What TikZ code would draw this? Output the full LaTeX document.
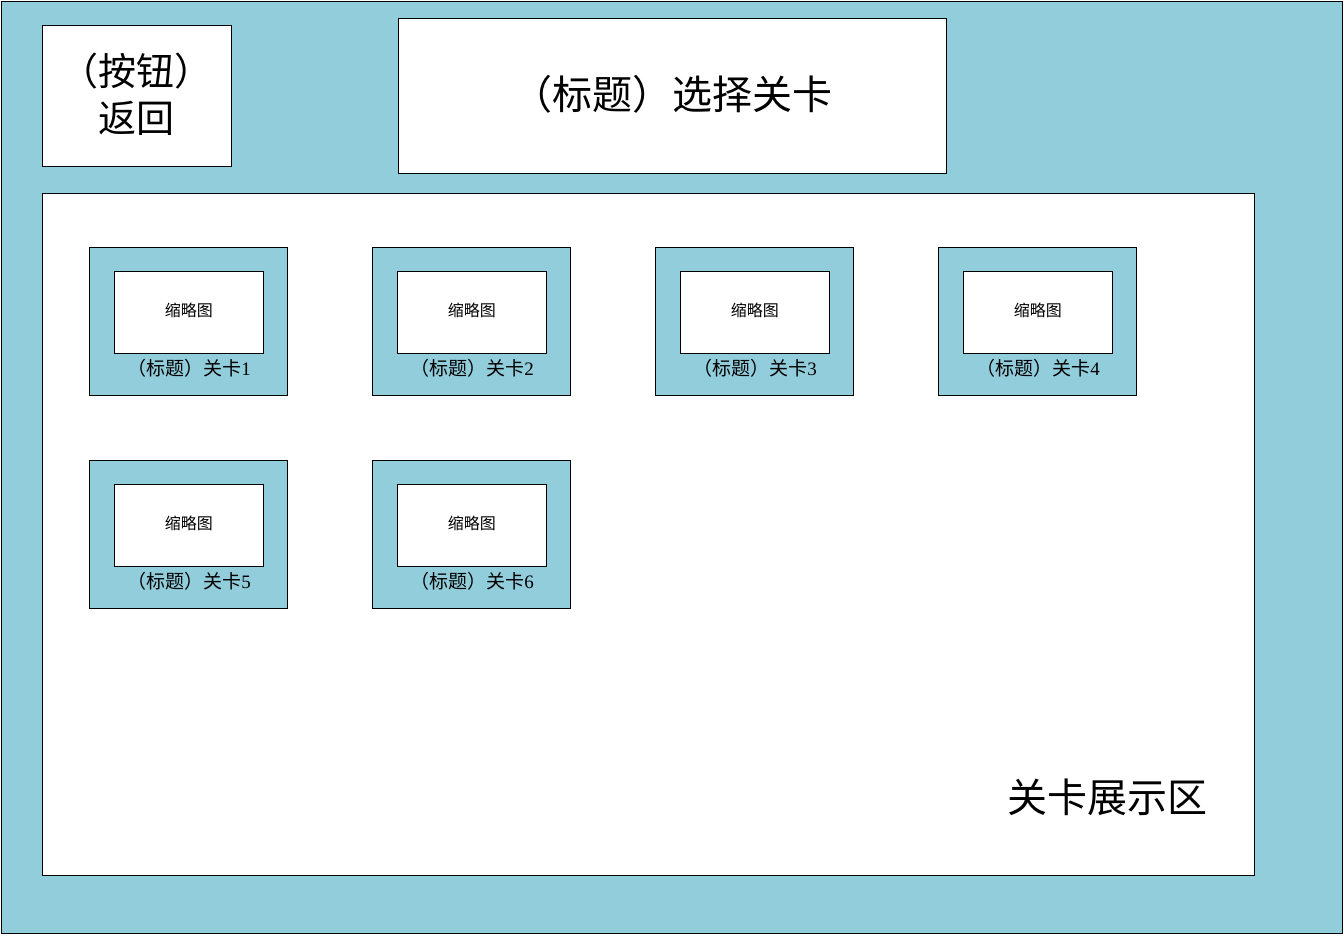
\documentclass[tikz,border=0pt]{standalone}
\usepackage{fontspec}
\usetikzlibrary{calc}
\setmainfont{Liberation Serif}
\newfontfamily\cjk{Noto Sans CJK SC}
\definecolor{bgblue}{HTML}{92CDDC}
\begin{document}
\begin{tikzpicture}[x=1pt,y=-1pt,
  box/.style={draw=black, line width=0.8pt, inner sep=0pt, anchor=north west},
  whitebox/.style={box, fill=white},
  bluebox/.style={box, fill=bgblue},
  bigtext/.style={font=\cjk\fontsize{38}{47}\selectfont, align=center},
  thumbtext/.style={font=\cjk\fontsize{16}{18}\selectfont},
  cardtext/.style={font=\fontsize{19}{21}\selectfont}]
  \useasboundingbox (0,0) rectangle (1344,935);
  % page background
  \node[bluebox, minimum width=1341pt, minimum height=932pt] (page) at (1,1) {};
  % back button and heading
  \node[whitebox, minimum width=189pt, minimum height=141pt] (back) at (42,25) {};
  \node[bigtext] (backlabel) at (136,94) {（按钮）\\返回};
  \node[whitebox, minimum width=548pt, minimum height=155pt] (title) at (398,18) {};
  \node[bigtext, font=\cjk\fontsize{40}{44}\selectfont] (titlelabel) at (672,94) {（标题）选择关卡};
  % level display area
  \node[whitebox, minimum width=1212pt, minimum height=682pt] (area) at (42,193) {};
  \node[bigtext, font=\cjk\fontsize{40}{44}\selectfont] (arealabel) at (1107,797) {关卡展示区};
  % level cards
  \foreach \n/\c/\r in {1/0/0, 2/1/0, 3/2/0, 4/3/0, 5/0/1, 6/1/1} {
    \pgfmathsetmacro{\cx}{89+283*\c}
    \pgfmathsetmacro{\cy}{247+213*\r}
    \node[bluebox, minimum width=198pt, minimum height=148pt] (card\n) at (\cx,\cy) {};
    \node[whitebox, minimum width=149pt, minimum height=82pt] (thumb\n) at ($(\cx,\cy)+(25,24)$) {};
    \node[thumbtext] (thumblabel\n) at ($(thumb\n.center)+(0,-2)$) {缩略图};
    \node[cardtext] (cardlabel\n) at ($(\cx,\cy)+(100,121)$) {{\cjk （标题）关卡}\n};
  }
\end{tikzpicture}
\end{document}
